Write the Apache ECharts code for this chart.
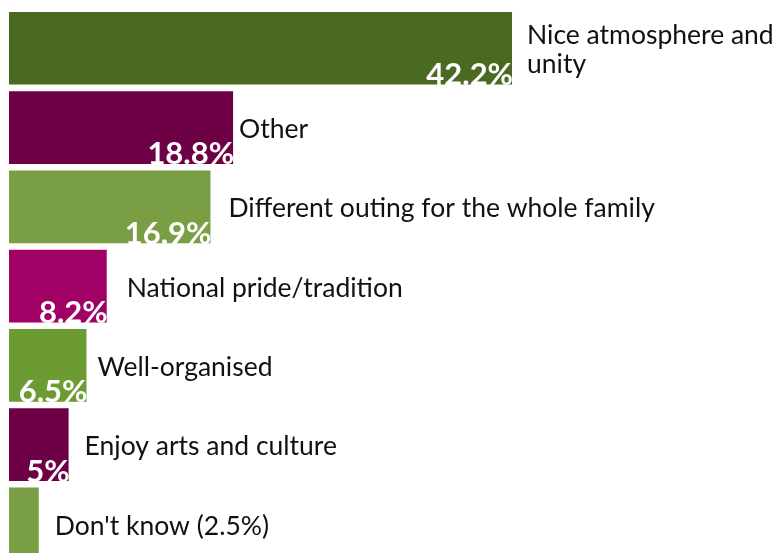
<!DOCTYPE html>
<html>
<head>
<meta charset="utf-8">
<script src="https://cdn.jsdelivr.net/npm/echarts@6/dist/echarts.min.js"></script>
<style>
html,body{margin:0;padding:0;background:#fff;}
#c{width:776px;height:553px;}
</style>
</head>
<body>
<div id="c"></div>
<script>
const categories = [
  "Nice atmosphere and unity",
  "Other",
  "Different outing for the whole family",
  "National pride/tradition",
  "Well-organised",
  "Enjoy arts and culture",
  "Don't know (2.5%)"
];
const values = [42.2, 18.8, 16.9, 8.2, 6.5, 5, 2.5];
const valueLabels = ["42.2%", "18.8%", "16.9%", "8.2%", "6.5%", "5%", ""];

const colors = ["#4a6a21", "#6e0046", "#7a9e44", "#a10065", "#6c9a33", "#6e0046", "#7a9e44"];
const nameGaps = [15, 6, 18, 20, 11, 16, 16];

const LEFT = 9, PX_PER = 11.92, XMAX = 60, W = 776;
const NAME_FONT = 26.5;

const ctx = document.createElement('canvas').getContext('2d');
ctx.font = NAME_FONT + 'px Lato';
function wrap(text, maxW) {
  const words = text.split(' ');
  const lines = [];
  let cur = '';
  words.forEach(w => {
    const t = cur ? cur + ' ' + w : w;
    if (cur && ctx.measureText(t).width > maxW) { lines.push(cur); cur = w; }
    else cur = t;
  });
  if (cur) lines.push(cur);
  return lines.join('\n');
}

const chart = echarts.init(document.getElementById('c'), null, {renderer: 'canvas'});

const barData = values.map((v, i) => ({
  value: v,
  itemStyle: {color: colors[i]}
}));
const nameData = values.map((v, i) => ({
  value: v,
  label: {distance: nameGaps[i]}
}));

chart.setOption({
  animation: false,
  grid: {left: LEFT, top: 8.6, width: XMAX * PX_PER, height: 555, containLabel: false, outerBoundsMode: 'none'},
  xAxis: {type: 'value', min: 0, max: XMAX, show: false},
  yAxis: {type: 'category', data: categories, inverse: true, show: false},
  series: [
    {
      type: 'bar',
      data: barData,
      barWidth: 72.7,
      z: 2,
      label: {
        show: true,
        position: 'insideBottomRight',
        distance: 0,
        offset: [1, 6],
        color: '#fff',
        fontFamily: 'Lato',
        fontWeight: 'bold',
        fontSize: 31,
        formatter: p => valueLabels[p.dataIndex]
      }
    },
    {
      type: 'bar',
      data: nameData,
      barWidth: 72.7,
      barGap: '-100%',
      z: 3,
      itemStyle: {color: 'rgba(0,0,0,0)'},
      label: {
        show: true,
        position: 'right',
        color: '#111',
        fontFamily: 'Lato',
        fontSize: NAME_FONT,
        lineHeight: 29,
        offset: [0, 2],
        formatter: p => {
          const i = p.dataIndex;
          const start = LEFT + values[i] * PX_PER + nameGaps[i];
          return wrap(categories[i], W - start);
        }
      }
    }
  ]
});
</script>
</body>
</html>
